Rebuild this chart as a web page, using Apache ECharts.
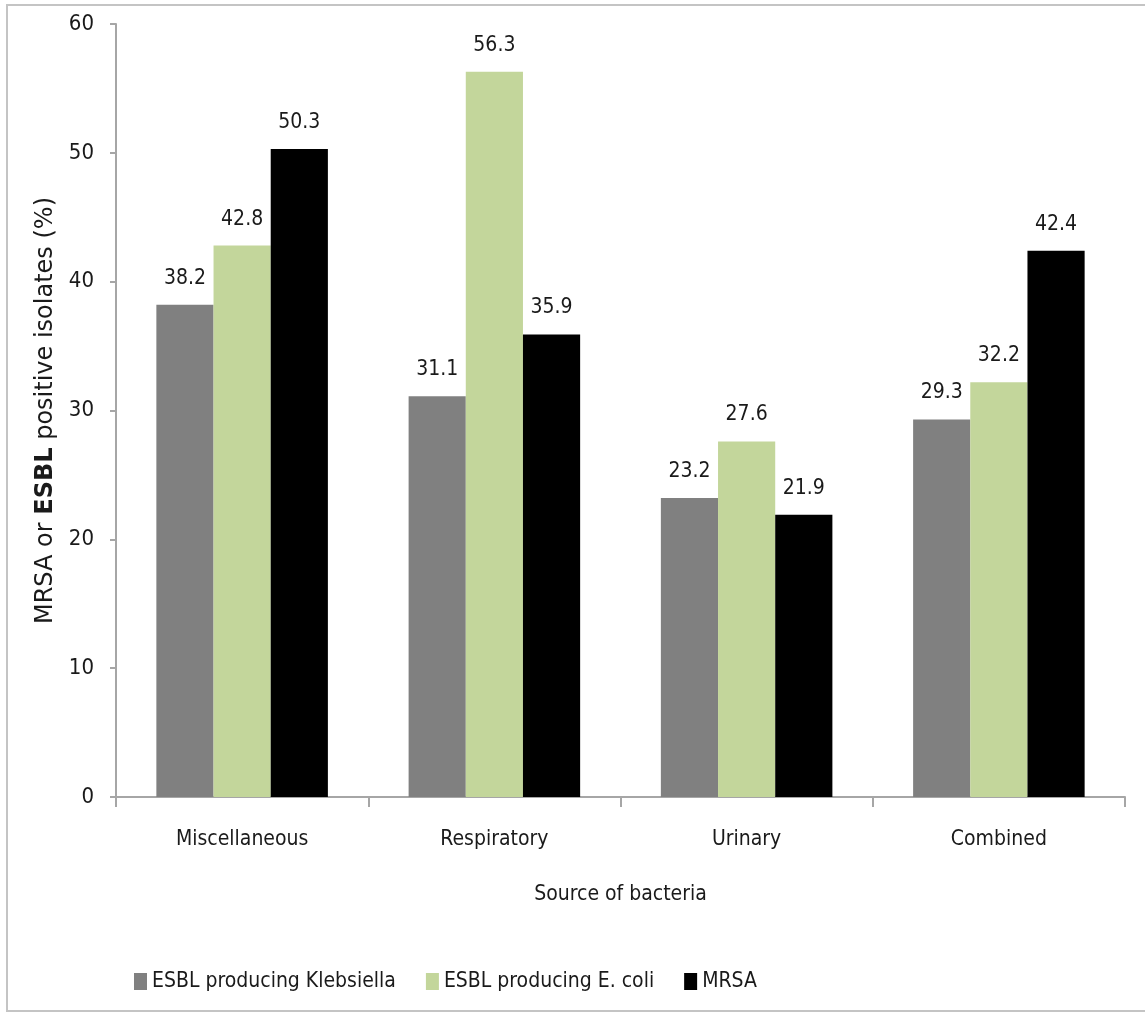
<!DOCTYPE html>
<html>
<head>
<meta charset="utf-8">
<script src="https://cdn.jsdelivr.net/npm/echarts@6/dist/echarts.min.js"></script>
<style>
  html, body { margin: 0; padding: 0; background: #fff; }
  #frame { position: absolute; left: 6px; top: 4px; width: 1145px; height: 1008px; border: 2px solid #c4c4c4; border-right: none; box-sizing: border-box; }
  #chart { position: absolute; left: 0; top: 0; width: 1145px; height: 1015px; }
</style>
</head>
<body>
<div id="frame"></div>
<div id="chart"></div>
<script>
// categories and values
var categories = ['Miscellaneous', 'Respiratory', 'Urinary', 'Combined'];
var klebsiella = [38.2, 31.1, 23.2, 29.3];
var ecoli = [42.8, 56.3, 27.6, 32.2];
var mrsa = [50.3, 35.9, 21.9, 42.4];
var seriesNames = ['ESBL producing Klebsiella', 'ESBL producing E. coli', 'MRSA'];

var font = '"Liberation Sans Narrow", "DejaVu Sans Condensed", sans-serif';
var chart = echarts.init(document.getElementById('chart'));

function barSeries(name, data, color) {
    return {
        name: name,
        type: 'bar',
        data: data,
        barGap: '0%',
        barCategoryGap: '32%',
        itemStyle: { color: color },
        label: {
            show: true,
            position: 'top',
            distance: 16,
            color: '#1a1a1a',
            fontFamily: font,
            fontSize: 21,
            formatter: function (p) { return p.value.toFixed(1); }
        }
    };
}

var option = {
    backgroundColor: 'transparent',
    animation: false,
    grid: { left: 116, right: 20, top: 24, bottom: 218, containLabel: false },
    legend: {
        left: 129,
        top: 966,
        itemWidth: 13,
        itemHeight: 17,
        itemGap: 30,
        icon: 'rect',
        selectedMode: false,
        textStyle: { fontFamily: font, fontSize: 21, color: '#1a1a1a' },
        data: seriesNames
    },
    xAxis: {
        type: 'category',
        data: categories,
        name: 'Source of bacteria',
        nameLocation: 'middle',
        nameGap: 87,
        nameTextStyle: { fontFamily: font, fontSize: 21, color: '#1a1a1a' },
        axisLine: { lineStyle: { color: '#a6a6a6', width: 2 } },
        axisTick: { show: true, length: 10, lineStyle: { color: '#a6a6a6', width: 2 } },
        axisLabel: { fontFamily: font, fontSize: 21, color: '#1a1a1a', margin: 32 }
    },
    yAxis: {
        type: 'value',
        min: 0,
        max: 60,
        interval: 10,
        name: '{n|MRSA or }{b|ESBL}{n| positive isolates (%)}',
        nameLocation: 'middle',
        nameGap: 52,
        nameRotate: 90,
        nameTextStyle: {
            rich: {
                n: { fontFamily: '"DejaVu Sans", sans-serif', fontSize: 24, color: '#1a1a1a' },
                b: { fontFamily: '"DejaVu Sans", sans-serif', fontSize: 24, fontWeight: 'bold', color: '#1a1a1a' }
            }
        },
        axisLine: { show: true, lineStyle: { color: '#a6a6a6', width: 2 } },
        axisTick: { show: true, length: 6, lineStyle: { color: '#a6a6a6', width: 2 } },
        splitLine: { show: false },
        axisLabel: { fontFamily: font, fontSize: 22, color: '#1a1a1a', margin: 22 }
    },
    series: [
        barSeries(seriesNames[0], klebsiella, '#808080'),
        barSeries(seriesNames[1], ecoli, '#c3d69b'),
        barSeries(seriesNames[2], mrsa, '#000000')
    ]
};
chart.setOption(option);
</script>
</body>
</html>
